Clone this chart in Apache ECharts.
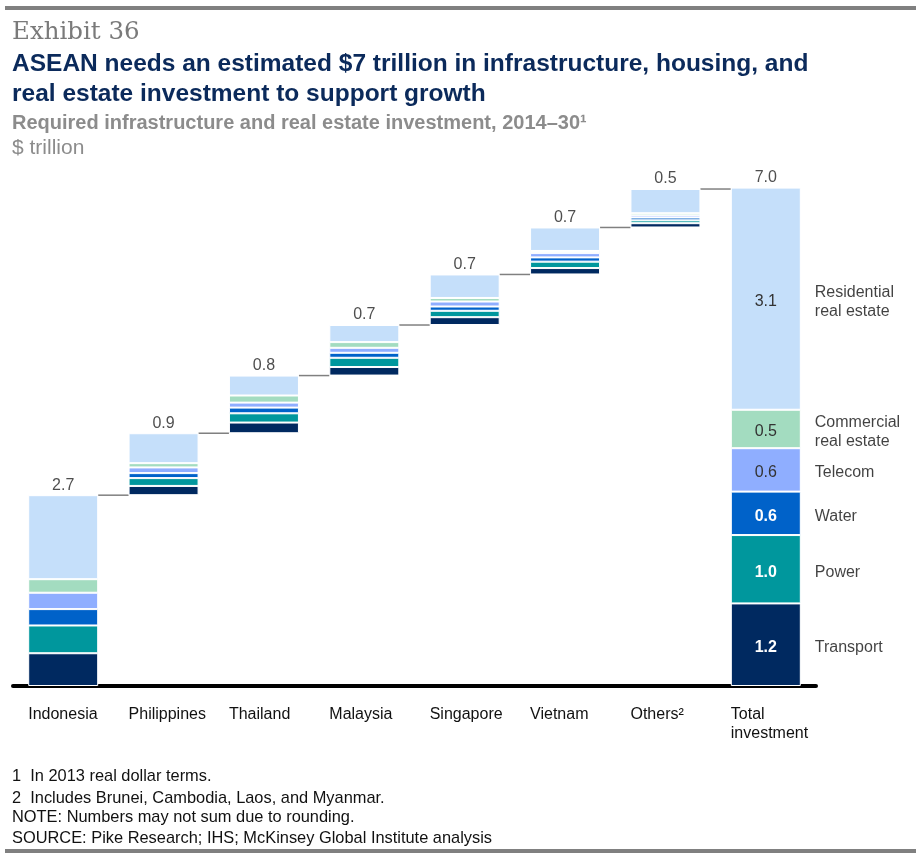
<!DOCTYPE html>
<html>
<head>
<meta charset="utf-8">
<script src="https://cdn.jsdelivr.net/npm/echarts@6/dist/echarts.min.js"></script>
<style>
  html, body { margin: 0; padding: 0; background: #fff; }
  #chart { width: 916px; height: 860px; }
</style>
</head>
<body>
<div id="chart"></div>
<script>
// ---- data ($ trillion) ----
const categories = ['Indonesia', 'Philippines', 'Thailand', 'Malaysia', 'Singapore', 'Vietnam', 'Others²', 'Total\ninvestment'];
const transport   = [0.46, 0.13, 0.15, 0.12, 0.11, 0.09, 0.06, 1.16];
const power       = [0.39, 0.11, 0.13, 0.13, 0.09, 0.09, 0.04, 0.96];
const water       = [0.23, 0.07, 0.08, 0.07, 0.06, 0.06, 0.04, 0.61];
const telecom     = [0.23, 0.08, 0.07, 0.07, 0.07, 0.06, 0.03, 0.61];
const commercial  = [0.19, 0.06, 0.10, 0.08, 0.05, 0.03, 0.03, 0.54];
const residential = [1.18, 0.42, 0.28, 0.24, 0.33, 0.33, 0.34, 3.12];
const segmentNames = ['Transport', 'Power', 'Water', 'Telecom', 'Commercial\nreal estate', 'Residential\nreal estate'];
const segmentColors = ['#002960', '#00979D', '#0062C9', '#8FAEFF', '#A3DCC0', '#C5DFFA'];
const segmentLabelColors = ['#ffffff', '#ffffff', '#ffffff', '#333333', '#333333', '#333333'];
const segmentLabelWeights = ['bold', 'bold', 'bold', 'normal', 'normal', 'normal'];
const footnotes = [
  '1  In 2013 real dollar terms.',
  '2  Includes Brunei, Cambodia, Laos, and Myanmar.',
  'NOTE: Numbers may not sum due to rounding.',
  'SOURCE: Pike Research; IHS; McKinsey Global Institute analysis'
];

// ---- derived ----
const segments = [transport, power, water, telecom, commercial, residential];
const n = categories.length;
const totalIdx = n - 1;
const totals = categories.map((c, i) => segments.reduce((s, arr) => s + arr[i], 0));
const bases = [];
let run = 0;
for (let i = 0; i < n; i++) {
  if (i === totalIdx) { bases.push(0); }
  else { bases.push(run); run += totals[i]; }
}
const tops = totals.map((t, i) => bases[i] + t);

const FONT = '"Liberation Sans", Arial, sans-serif';

const chart = echarts.init(document.getElementById('chart'), null, { renderer: 'canvas' });

const segSeries = segments.map((arr, k) => ({
  name: segmentNames[k],
  type: 'bar',
  stack: 'w',
  barWidth: 70,
  itemStyle: { color: segmentColors[k], borderColor: '#ffffff', borderWidth: 1 },
  emphasis: { disabled: true },
  data: arr.map((v, i) => {
    if (i === totalIdx) {
      return {
        value: v,
        label: {
          show: true, position: 'inside', offset: [0, 3],
          formatter: () => v.toFixed(1),
          color: segmentLabelColors[k], fontWeight: segmentLabelWeights[k],
          fontSize: 16, fontFamily: FONT
        }
      };
    }
    return v;
  })
}));

// midpoints of total-bar segments for the right-hand names
let acc = 0;
const nameData = segments.map((arr, k) => {
  const mid = acc + arr[totalIdx] / 2;
  acc += arr[totalIdx];
  return { value: [totalIdx, mid], name: segmentNames[k] };
});

const option = {
  animation: false,
  backgroundColor: '#ffffff',
  grid: { left: 13, right: 100, top: 152, bottom: 174, containLabel: false },
  xAxis: {
    type: 'category',
    data: categories,
    axisLine: { show: true, lineStyle: { color: '#000000', width: 4 } },
    axisTick: { show: false },
    axisLabel: {
      interval: 0, margin: 19, align: 'left', padding: [0, 0, 0, -35],
      color: '#111111', fontSize: 16, fontFamily: FONT, lineHeight: 19,
      verticalAlign: 'top'
    }
  },
  yAxis: {
    type: 'value', min: 0, max: 7.5,
    show: false, splitLine: { show: false }
  },
  graphic: [
    { type: 'rect', shape: { x: 5, y: 6, width: 911, height: 4 }, style: { fill: '#808080' } },
    { type: 'rect', shape: { x: 5, y: 849, width: 911, height: 4 }, style: { fill: '#808080' } },
    { type: 'text', x: 12, y: 33, style: { text: 'Exhibit 36', font: '24.5px "DejaVu Serif", Georgia, serif', fill: '#7A7A7A', verticalAlign: 'middle' } },
    { type: 'text', x: 12, y: 64, style: { text: 'ASEAN needs an estimated $7 trillion in infrastructure, housing, and', font: 'bold 24.5px ' + FONT, fill: '#0B2A5B', verticalAlign: 'middle' } },
    { type: 'text', x: 12, y: 94, style: { text: 'real estate investment to support growth', font: 'bold 24.5px ' + FONT, fill: '#0B2A5B', verticalAlign: 'middle' } },
    { type: 'text', x: 12, y: 123, style: { text: 'Required infrastructure and real estate investment, 2014–30¹', font: 'bold 20px ' + FONT, fill: '#8C8C8C', verticalAlign: 'middle' } },
    { type: 'text', x: 12, y: 148, style: { text: '$ trillion', font: '21px ' + FONT, fill: '#8C8C8C', verticalAlign: 'middle' } },
    ...footnotes.map((t, i) => ({
      type: 'text', x: 12, y: [776, 798, 817, 838][i],
      style: { text: t, font: '16.4px ' + FONT, fill: '#111111', verticalAlign: 'middle' }
    }))
  ],
  series: [
    {
      name: 'base', type: 'bar', stack: 'w', barWidth: 70, silent: true,
      itemStyle: { color: 'rgba(0,0,0,0)' },
      emphasis: { disabled: true },
      data: bases
    },
    ...segSeries,
    {
      name: 'totals', type: 'scatter', symbolSize: 0, silent: true,
      data: tops.map((t, i) => [i, t]),
      label: {
        show: true, position: 'top', distance: 2,
        formatter: (p) => totals[p.dataIndex].toFixed(1),
        color: '#222222', fontSize: 16, fontFamily: FONT
      }
    },
    {
      name: 'names', type: 'scatter', symbolSize: 0, silent: true,
      data: nameData,
      label: {
        show: true, position: 'right', distance: 49, offset: [0, 3],
        formatter: (p) => p.name,
        color: '#111111', fontSize: 16, fontFamily: FONT, lineHeight: 19, align: 'left'
      }
    },
    {
      name: 'connectors', type: 'custom', silent: true,
      data: tops.slice(0, totalIdx).map((t, i) => [i, t]),
      renderItem: (params, api) => {
        const i = api.value(0), v = api.value(1);
        const p = api.coord([i, v]);
        const q = api.coord([i + 1, v]);
        return {
          type: 'line',
          shape: { x1: p[0] + 35, y1: p[1], x2: q[0] - 35, y2: q[1] },
          style: { stroke: '#808080', lineWidth: 1.5 }
        };
      }
    }
  ]
};

chart.setOption(option);
</script>
</body>
</html>
